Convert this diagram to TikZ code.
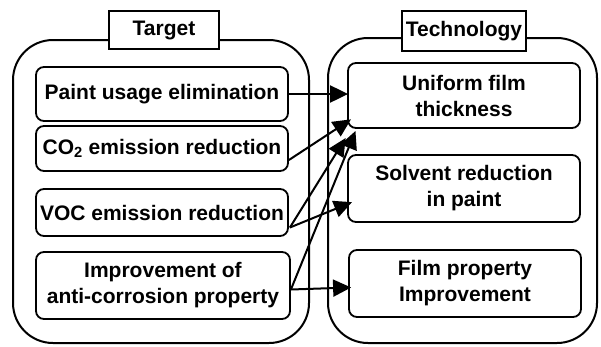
\documentclass[tikz,border=0pt]{standalone}
\usepackage{fontspec}
\setmainfont{Liberation Sans}
\usetikzlibrary{shapes,arrows,arrows.meta,positioning,calc}

\begin{document}
\begin{tikzpicture}[
    x=1pt, y=-1pt,
    font=\fontsize{21}{26}\selectfont\bfseries,
    panel/.style={rectangle, rounded corners=40pt, draw, line width=2pt, inner sep=0pt},
    title/.style={rectangle, draw, fill=white, line width=1.8pt, inner sep=0pt},
    item/.style={rectangle, rounded corners=8pt, draw, line width=1.8pt,
        align=center, inner sep=0pt},
    flow/.style={-{Triangle[length=18pt, width=17pt]}, line width=2pt, shorten >=-1pt},
]
\useasboundingbox (0,0) rectangle (601,346);

% ---------- panels ----------
\node[panel, minimum width=296pt, minimum height=303pt] (targetbox) at (161,191.5) {};
\node[panel, minimum width=269pt, minimum height=305pt] (techbox) at (462.5,190.5) {};
\node[title, minimum width=110pt, minimum height=38pt] (target) at (164,30) {Target};
\node[title, minimum width=124pt, minimum height=40pt] (tech) at (464,31) {Technology};

% ---------- targets ----------
\node[item, minimum width=252pt, minimum height=54pt] (paint) at (162,94) {Paint usage elimination};
\node[item, minimum width=252pt, minimum height=45pt] (co2) at (162,148.5) {CO\textsubscript{2} emission reduction};
\node[item, minimum width=252pt, minimum height=47pt] (voc) at (162,212.5) {VOC emission reduction};
\node[item, minimum width=254pt, minimum height=67pt] (imp) at (163,285.5) {Improvement of\\anti-corrosion property};

% ---------- technologies ----------
\node[item, minimum width=232pt, minimum height=65pt] (uniform) at (464,95.5) {Uniform film\\thickness};
\node[item, minimum width=232pt, minimum height=67pt] (solvent) at (464,188.5) {Solvent reduction\\in paint};
\node[item, minimum width=232pt, minimum height=67pt] (film) at (465,283.5) {Film property\\Improvement};

% ---------- arrow tips near uniform film ----------
\coordinate (tipco) at ($(uniform.south west)+(3,-9)$);
\coordinate (tipimp) at ($(uniform.south west)+(8,3)$);
\coordinate (tipvoc) at ($(uniform.south west)+(-2,10)$);
\coordinate (tipsol) at ($(solvent.west)+(4,14)$);

% ---------- links ----------
\draw[flow] (paint.east) -- (paint.east -| uniform.west);
\draw[flow] ($(co2.east)+(0,11.5)$) -- (tipco);
\draw[flow] ($(voc.east)+(1,15)$) -- (tipvoc);
\draw[flow] ($(voc.east)+(1,15)$) -- (tipsol);
\draw[flow] ($(imp.east)+(0,4)$) -- (tipimp);
\draw[flow] ($(imp.east)+(0,4)$) -- ($(imp.east -| film.west)+(2,2)$);

\end{tikzpicture}
\end{document}
